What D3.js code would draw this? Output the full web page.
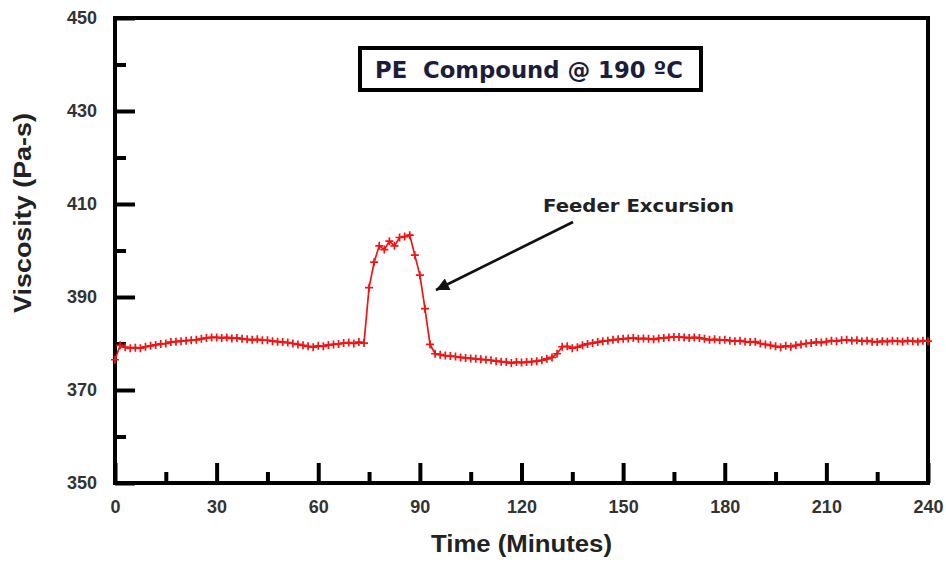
<!DOCTYPE html>
<html>
<head>
<meta charset="utf-8">
<script src="https://cdn.jsdelivr.net/npm/d3@7"></script>
<style>
  html, body { margin: 0; padding: 0; background: #fff; }
  svg { display: block; }
</style>
</head>
<body>
<svg id="chart" width="946" height="571"></svg>
<script>
// Melt viscosity logged during a PE compounding run
const minutes = [
  0, 1.5, 3, 4.5, 6, 7.5, 9, 10.5, 12, 13.5, 15, 16.5, 18, 19.5, 21, 22.5, 24, 25.5, 27, 28.5,
  30, 31.5, 33, 34.5, 36, 37.5, 39, 40.5, 42, 43.5, 45, 46.5, 48, 49.5, 51, 52.5, 54, 55.5, 57, 58.5,
  60, 61.5, 63, 64.5, 66, 67.5, 69, 70.5, 72, 73.5, 75, 76.5, 78, 79.5, 81, 82.5, 84, 85.5, 87, 88.5,
  90, 91.5, 93, 94.5, 96, 97.5, 99, 100.5, 102, 103.5, 105, 106.5, 108, 109.5, 111, 112.5, 114, 115.5, 117, 118.5,
  120, 121.5, 123, 124.5, 126, 127.5, 129, 130.5, 132, 133.5, 135, 136.5, 138, 139.5, 141, 142.5, 144, 145.5, 147, 148.5,
  150, 151.5, 153, 154.5, 156, 157.5, 159, 160.5, 162, 163.5, 165, 166.5, 168, 169.5, 171, 172.5, 174, 175.5, 177, 178.5,
  180, 181.5, 183, 184.5, 186, 187.5, 189, 190.5, 192, 193.5, 195, 196.5, 198, 199.5, 201, 202.5, 204, 205.5, 207, 208.5,
  210, 211.5, 213, 214.5, 216, 217.5, 219, 220.5, 222, 223.5, 225, 226.5, 228, 229.5, 231, 232.5, 234, 235.5, 237, 238.5,
  240
];
const viscosity = [
  376.5, 379.6, 379.2, 379.0, 379.1, 379.0, 379.3, 379.5, 379.7, 379.9, 380.0, 380.3, 380.4, 380.5, 380.6, 380.7, 380.8, 381.0, 381.2, 381.3,
  381.3, 381.2, 381.3, 381.1, 381.2, 381.0, 380.9, 380.8, 380.9, 380.7, 380.7, 380.5, 380.4, 380.3, 380.2, 380.0, 379.8, 379.6, 379.4, 379.2,
  379.5, 379.4, 379.7, 379.8, 379.9, 380.1, 380.2, 380.0, 380.3, 380.1, 392.0, 397.5, 401.0, 400.2, 402.0, 401.0, 402.8, 403.0, 403.3, 399.0,
  394.7, 387.5, 379.8, 377.8, 377.6, 377.4, 377.3, 377.2, 377.0, 376.9, 376.8, 376.7, 376.6, 376.5, 376.4, 376.2, 376.1, 376.0, 375.8, 376.0,
  375.9, 376.0, 376.1, 376.2, 376.4, 376.7, 377.0, 377.8, 379.3, 379.4, 379.0, 379.2, 379.6, 379.9, 380.1, 380.3, 380.5, 380.6, 380.8, 380.9,
  381.0, 381.1, 381.2, 381.0, 381.1, 381.0, 380.9, 381.1, 381.2, 381.3, 381.4, 381.4, 381.3, 381.2, 381.3, 381.2, 381.0, 380.8, 380.9, 380.7,
  380.8, 380.6, 380.5, 380.6, 380.4, 380.3, 380.4, 380.0, 379.8, 379.6, 379.4, 379.2, 379.5, 379.3, 379.6, 379.8, 380.0, 380.1, 380.3, 380.2,
  380.4, 380.6, 380.5, 380.7, 380.8, 380.6, 380.7, 380.5, 380.6, 380.4, 380.3, 380.5, 380.4, 380.6, 380.5, 380.4, 380.6, 380.5, 380.4, 380.6,
  380.5
];
const xMajorTicks = [0, 30, 60, 90, 120, 150, 180, 210, 240];
const xMinorTicks = [15, 45, 75, 105, 135, 165, 195, 225];
const yMajorTicks = [350, 370, 390, 410, 430, 450];
const yMinorTicks = [360, 380, 400, 420, 440];

const titleText = "PE  Compound @ 190 \u00BAC";
const noteText = "Feeder Excursion";
const xTitle = "Time (Minutes)";
const yTitle = "Viscosity (Pa-s)";

const svg = d3.select("#chart");
const plot = { left: 115, right: 928, top: 18, bottom: 483 };

const x = d3.scaleLinear().domain([0, 240]).range([plot.left, plot.right]);
const y = d3.scaleLinear().domain([350, 450]).range([plot.bottom, plot.top]);

const tickFont = "'Liberation Sans', Arial, sans-serif";
const noteFont = "'DejaVu Sans', Verdana, sans-serif";

// Inward ticks, bold grey labels
function styleAxis(g) {
  g.select(".domain").remove();
  g.selectAll(".tick line").attr("stroke", "#000").attr("stroke-width", 4);
  g.selectAll(".tick text")
    .attr("fill", "#333")
    .style("font-family", tickFont)
    .style("font-weight", "bold")
    .style("font-size", "18px");
}

svg.append("g")
  .attr("transform", `translate(0,${plot.bottom})`)
  .call(d3.axisBottom(x).tickValues(xMajorTicks).tickSize(-20).tickPadding(17).tickFormat(d3.format("d")))
  .call(styleAxis);

svg.append("g")
  .attr("transform", `translate(0,${plot.bottom})`)
  .call(d3.axisBottom(x).tickValues(xMinorTicks).tickSize(-11).tickFormat(""))
  .call(styleAxis);

svg.append("g")
  .attr("transform", `translate(${plot.left},0)`)
  .call(d3.axisLeft(y).tickValues(yMajorTicks).tickSize(-20).tickPadding(18).tickFormat(d3.format("d")))
  .call(styleAxis);

svg.append("g")
  .attr("transform", `translate(${plot.left},0)`)
  .call(d3.axisLeft(y).tickValues(yMinorTicks).tickSize(-11).tickFormat(""))
  .call(styleAxis);

// Plot frame
svg.append("rect")
  .attr("x", plot.left).attr("y", plot.top)
  .attr("width", plot.right - plot.left).attr("height", plot.bottom - plot.top)
  .attr("fill", "none").attr("stroke", "#000").attr("stroke-width", 4);

// Viscosity trace
const series = minutes.map((t, i) => ({ t, v: viscosity[i] }));
const line = d3.line().x(d => x(d.t)).y(d => y(d.v));

svg.append("path")
  .datum(series)
  .attr("d", line)
  .attr("fill", "none")
  .attr("stroke", "#f01414")
  .attr("stroke-width", 1.7);

svg.append("g")
  .selectAll("path")
  .data(series)
  .join("path")
  .attr("transform", d => `translate(${x(d.t)},${y(d.v)})`)
  .attr("d", "M-4,0H4M0,-4V4")
  .attr("stroke", "#f01414")
  .attr("stroke-width", 1.7)
  .attr("fill", "none");

// Title box
svg.append("rect")
  .attr("x", 360).attr("y", 48)
  .attr("width", 341).attr("height", 42)
  .attr("fill", "#fff").attr("stroke", "#000").attr("stroke-width", 4);

svg.append("text")
  .attr("x", 375).attr("y", 78)
  .attr("fill", "#1c1c3c")
  .attr("textLength", 308)
  .attr("lengthAdjust", "spacingAndGlyphs")
  .style("white-space", "pre")
  .style("font-family", noteFont)
  .style("font-weight", "bold")
  .style("font-size", "23px")
  .text(titleText);

// Annotation with arrow
svg.append("defs").append("marker")
  .attr("id", "arrowHead")
  .attr("viewBox", "0 0 10 10")
  .attr("refX", 10).attr("refY", 5)
  .attr("markerWidth", 9).attr("markerHeight", 5)
  .attr("markerUnits", "strokeWidth")
  .attr("orient", "auto")
  .append("path")
  .attr("d", "M0,0L10,5L0,10Z")
  .attr("fill", "#111");

svg.append("line")
  .attr("x1", 573).attr("y1", 222)
  .attr("x2", 436).attr("y2", 290)
  .attr("stroke", "#111").attr("stroke-width", 2.6)
  .attr("marker-end", "url(#arrowHead)");

svg.append("text")
  .attr("x", 543).attr("y", 212)
  .attr("fill", "#222")
  .attr("textLength", 191)
  .attr("lengthAdjust", "spacingAndGlyphs")
  .style("font-family", noteFont)
  .style("font-weight", "bold")
  .style("font-size", "17px")
  .text(noteText);

// Axis titles
svg.append("text")
  .attr("x", (plot.left + plot.right) / 2).attr("y", 552)
  .attr("text-anchor", "middle")
  .attr("fill", "#222")
  .attr("textLength", 181)
  .attr("lengthAdjust", "spacingAndGlyphs")
  .style("font-family", tickFont)
  .style("font-weight", "bold")
  .style("font-size", "23px")
  .text(xTitle);

svg.append("text")
  .attr("transform", "translate(31,213) rotate(-90)")
  .attr("text-anchor", "middle")
  .attr("fill", "#222")
  .attr("textLength", 200)
  .attr("lengthAdjust", "spacingAndGlyphs")
  .style("font-family", tickFont)
  .style("font-weight", "bold")
  .style("font-size", "23px")
  .text(yTitle);
</script>
</body>
</html>
